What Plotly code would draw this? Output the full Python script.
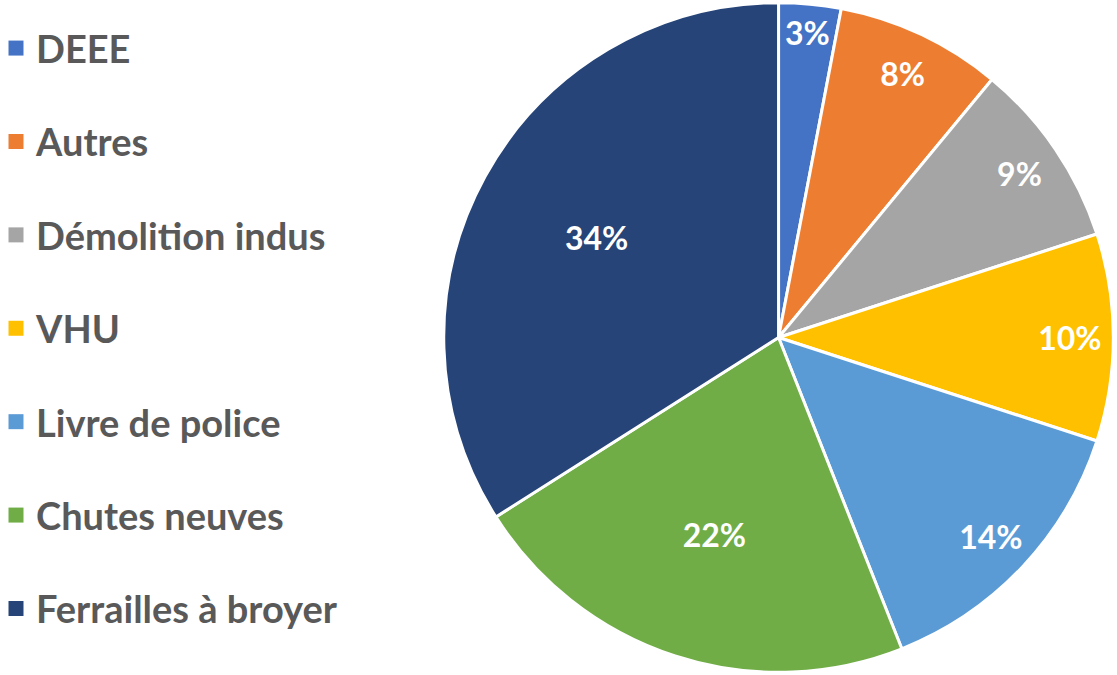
import plotly.graph_objects as go

categories = ["DEEE", "Autres", "Démolition indus", "VHU", "Livre de police", "Chutes neuves", "Ferrailles à broyer"]
values = [3, 8, 9, 10, 14, 22, 34]
colors = ["#4472C4", "#ED7D31", "#A5A5A5", "#FFC000", "#5B9BD5", "#70AD47", "#264478"]
# which labels sit near the rim (small slices) vs nearer the centre (large slices)
outer_label = [True, True, True, True, True, False, False]

FONT = "Lato"
DOMAIN = dict(x=[0.3971, 0.9969], y=[0.004, 0.996])
CLEAR = "rgba(0,0,0,0)"
PCT = "%{percent:.0%}"

fig = go.Figure()
# base pie with colours and white borders
fig.add_trace(go.Pie(
    labels=categories, values=values, sort=False, direction="clockwise", rotation=0,
    marker=dict(colors=colors, line=dict(color="white", width=3)),
    textinfo="none", domain=DOMAIN, showlegend=False,
    hoverinfo="label+percent",
))
# label layers (transparent) to place percentages like the original
for hole, show in ((0.24, [not o for o in outer_label]), (0.74, outer_label)):
    fig.add_trace(go.Pie(
        labels=categories, values=values, sort=False, direction="clockwise", rotation=0,
        hole=hole,
        marker=dict(colors=[CLEAR] * len(values), line=dict(width=0)),
        textinfo="percent", texttemplate=[PCT if s else " " for s in show],
        textposition="inside", insidetextorientation="horizontal",
        textfont=dict(family=FONT, size=32, weight="bold", color="white"),
        domain=DOMAIN, showlegend=False, hoverinfo="skip",
    ))

for name, col in zip(categories, colors):
    fig.add_trace(go.Scatter(
        x=[None], y=[None], mode="markers", name=name,
        marker=dict(symbol="square", size=15, color=col),
        legendgroup=name, showlegend=True, hoverinfo="skip",
    ))

fig.update_layout(
    width=1117, height=675,
    margin=dict(l=0, r=0, t=0, b=0),
    paper_bgcolor="white", plot_bgcolor="white",
    xaxis=dict(visible=False), yaxis=dict(visible=False),
    uniformtext=dict(minsize=32, mode="show"),
    legend=dict(
        x=0, y=0.975, xanchor="left", yanchor="top",
        font=dict(family=FONT, size=38, color="#595959", weight="bold"),
        tracegroupgap=41, itemwidth=30, indentation=-4,
        traceorder="grouped",
        bgcolor="rgba(0,0,0,0)",
    ),
)

fig.write_html("out.html", config={"displayModeBar": False},
               post_script="document.body.style.margin='0';")
